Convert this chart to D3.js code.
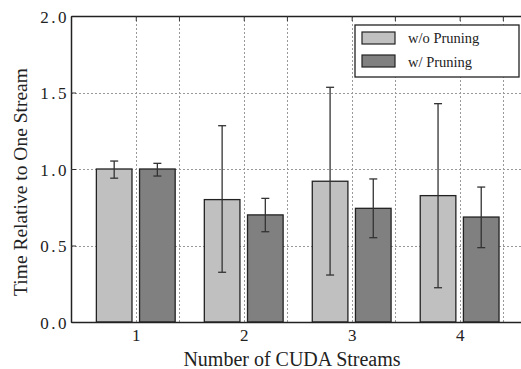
<!DOCTYPE html>
<html>
<head>
<meta charset="utf-8">
<script src="https://cdn.jsdelivr.net/npm/d3@7"></script>
<style>
  body { margin: 0; background: white; }
  svg { display: block; }
  text { font-family: "Liberation Serif", "Times New Roman", serif; fill: #222; }
</style>
</head>
<body>
<div id="chart"></div>
<script>
const streams = [1, 2, 3, 4];
const seriesNames = ["w/o Pruning", "w/ Pruning"];
const seriesColors = ["#c0c0c0", "#808080"];
const noPruning = [1.0, 0.80, 0.92, 0.826];
const noPruningLow = [0.94, 0.325, 0.307, 0.224];
const noPruningHigh = [1.052, 1.283, 1.534, 1.427];
const withPruning = [1.0, 0.70, 0.743, 0.686];
const withPruningLow = [0.954, 0.59, 0.551, 0.486];
const withPruningHigh = [1.037, 0.808, 0.935, 0.882];
const yTicks = [0, 0.5, 1.0, 1.5, 2.0];
const yTickLabels = ["0.0", "0.5", "1.0", "1.5", "2.0"];
const minorGrid = [1.4, 2.4, 3.4, 4.4];

const W = 521, H = 369;
const MARGIN = { TOP: 16, RIGHT: -25, BOTTOM: 47, LEFT: 71 };
const SERIF = "'Liberation Serif', 'Times New Roman', Times, serif";

const svg = d3.select("#chart").append("svg")
  .attr("width", W).attr("height", H);

const x = d3.scaleLinear().domain([0.4, 4.8]).range([MARGIN.LEFT, W - MARGIN.RIGHT]);
const y = d3.scaleLinear().domain([0, 2]).range([H - MARGIN.BOTTOM, MARGIN.TOP]);

const series = [
  { name: seriesNames[0], color: seriesColors[0], off: -0.2, v: noPruning, lo: noPruningLow, hi: noPruningHigh },
  { name: seriesNames[1], color: seriesColors[1], off: 0.2, v: withPruning, lo: withPruningLow, hi: withPruningHigh },
];
const barW = 0.33;

// grid
const grid = svg.append("g").attr("stroke", "#999").attr("stroke-width", 1).attr("stroke-dasharray", "2,2");
grid.selectAll(".gy").data(yTicks.slice(1, 4)).enter().append("line")
  .attr("x1", x(0.4)).attr("x2", W)
  .attr("y1", d => Math.round(y(d)) + 0.5).attr("y2", d => Math.round(y(d)) + 0.5);
grid.selectAll(".gx").data(streams.concat(minorGrid)).enter().append("line")
  .attr("x1", d => Math.round(x(d)) + 0.5).attr("x2", d => Math.round(x(d)) + 0.5)
  .attr("y1", y(2)).attr("y2", y(0));

// bars
series.forEach(s => {
  const g = svg.append("g");
  g.selectAll("rect").data(streams).enter().append("rect")
    .attr("x", (d) => x(d + s.off - barW / 2))
    .attr("y", (d, i) => y(s.v[i]))
    .attr("width", x(barW) - x(0))
    .attr("height", (d, i) => y(0) - y(s.v[i]))
    .attr("fill", s.color)
    .attr("stroke", "#222")
    .attr("stroke-width", 1.3);
  const e = g.append("g").attr("stroke", "#333").attr("stroke-width", 1.3);
  streams.forEach((d, i) => {
    const cx = x(d + s.off);
    e.append("line").attr("x1", cx).attr("x2", cx).attr("y1", y(s.lo[i])).attr("y2", y(s.hi[i]));
    e.append("line").attr("x1", cx - 4).attr("x2", cx + 4).attr("y1", y(s.lo[i])).attr("y2", y(s.lo[i]));
    e.append("line").attr("x1", cx - 4).attr("x2", cx + 4).attr("y1", y(s.hi[i])).attr("y2", y(s.hi[i]));
  });
});

// axes
const yAxis = svg.append("g")
  .attr("transform", `translate(${x(0.4)},0)`)
  .call(d3.axisLeft(y).tickValues(yTicks).tickFormat((d, i) => yTickLabels[i]).tickSizeInner(-5).tickSizeOuter(0).tickPadding(2));
const xAxis = svg.append("g")
  .attr("transform", `translate(0,${y(0)})`)
  .call(d3.axisBottom(x).tickValues(streams).tickFormat(d3.format("d")).tickSizeInner(-5).tickSizeOuter(0).tickPadding(7));
const xTop = svg.append("g")
  .attr("transform", `translate(0,${y(2)})`)
  .call(d3.axisTop(x).tickValues(streams.concat(minorGrid)).tickFormat("").tickSizeInner(-5).tickSizeOuter(0));
[yAxis, xAxis, xTop].forEach(a => {
  a.attr("font-family", SERIF).attr("font-size", 17);
  a.select(".domain").attr("stroke", "#222").attr("stroke-width", 1.5);
  a.selectAll(".tick line").attr("stroke", "#333");
  a.selectAll(".tick text")
    .attr("font-family", SERIF)
    .style("font-family", SERIF)
    .style("font-size", "17px")
    .style("fill", "#222");
});
yAxis.selectAll(".tick text").style("letter-spacing", "2.5px").attr("dy", "0.36em");
xAxis.selectAll(".tick line").remove();

svg.append("text")
  .attr("x", 292).attr("y", 366)
  .attr("text-anchor", "middle")
  .style("font-size", "20px")
  .text("Number of CUDA Streams");
svg.append("text")
  .attr("transform", `translate(27,182) rotate(-90)`)
  .attr("text-anchor", "middle")
  .style("font-size", "19.5px")
  .text("Time Relative to One Stream");

// legend
const leg = svg.append("g").attr("transform", "translate(355,25)");
leg.append("rect").attr("width", 164).attr("height", 52)
  .attr("fill", "white").attr("stroke", "#222").attr("stroke-width", 1.3);
series.forEach((s, i) => {
  leg.append("rect").attr("x", 7).attr("y", 7 + i * 23).attr("width", 33).attr("height", 12)
    .attr("fill", s.color).attr("stroke", "#222").attr("stroke-width", 1.2);
  leg.append("text").attr("x", 53).attr("y", 18 + i * 24)
    .style("font-size", "14.5px").text(s.name);
});
</script>
</body>
</html>
